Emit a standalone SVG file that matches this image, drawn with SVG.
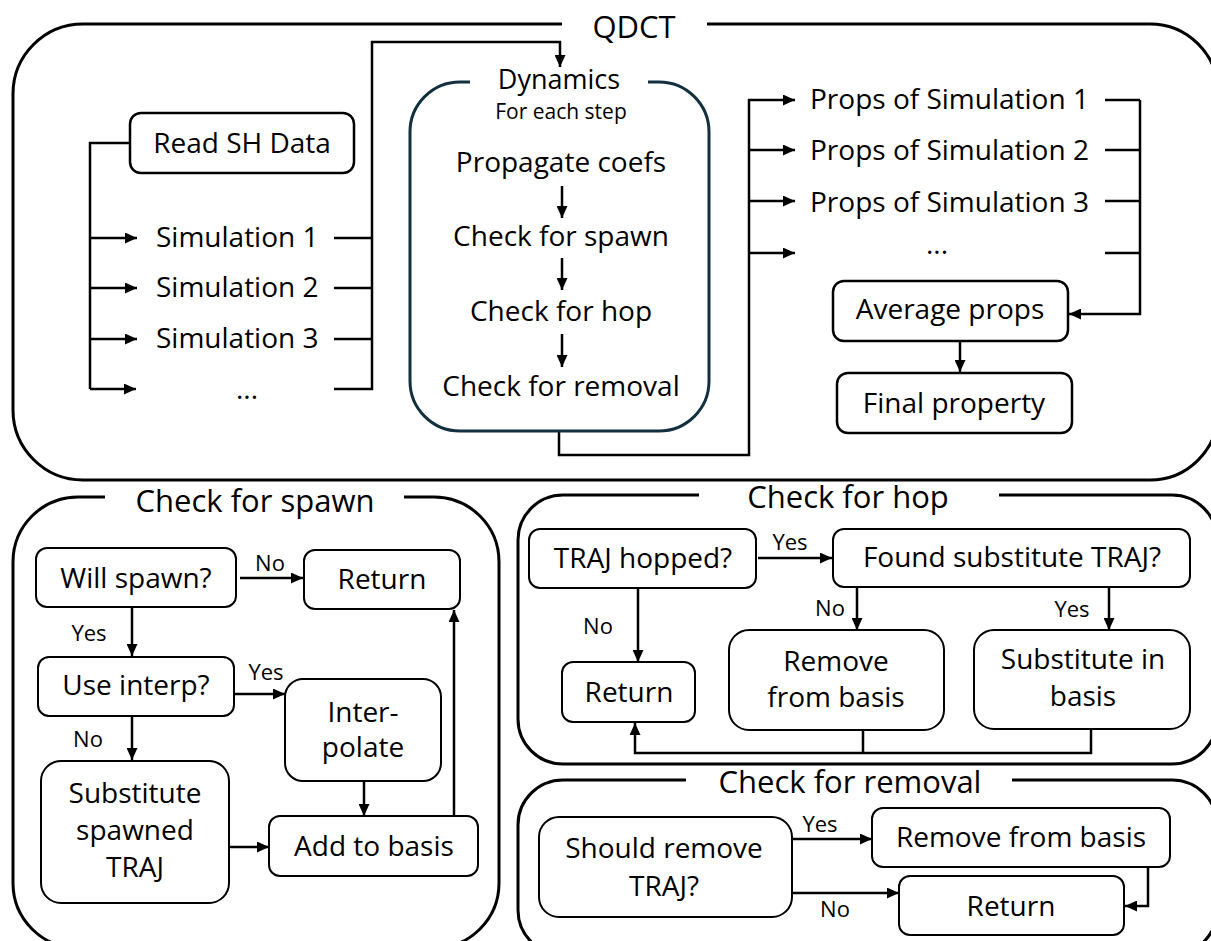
<svg xmlns="http://www.w3.org/2000/svg" width="1211" height="941" viewBox="0 0 1211 941">
<defs>
<style>
text{font-family:"Open Sans","Liberation Sans",sans-serif;fill:#000;}
.t{font-size:28px;text-anchor:middle;}
.ts{font-size:28px;text-anchor:start;}
.title{font-size:31px;text-anchor:middle;}
.lbl{font-size:22px;text-anchor:middle;}
.sub{font-size:21px;text-anchor:middle;}
.panel{fill:none;stroke:#000;stroke-width:3;}
.dyn{fill:none;stroke:#13303f;stroke-width:3;}
.box{fill:#fff;stroke:#000;stroke-width:2.5;}
.sbox{fill:#fff;stroke:#000;stroke-width:2;}
.c{fill:none;stroke:#000;stroke-width:2.5;}
.a{fill:none;stroke:#000;stroke-width:2.5;marker-end:url(#ah);}
</style>
<marker id="ah" markerUnits="userSpaceOnUse" markerWidth="13" markerHeight="11" refX="12" refY="5.5" orient="auto">
<path d="M0,0 L12,5.5 L0,11 z" fill="#000"/>
</marker>
</defs>

<g id="panels">
<path class="panel" d="M562 24 H83 A70 70 0 0 0 13 94 V410 A70 70 0 0 0 83 480 H1150 A68 68 0 0 0 1218 412 V92 A68 68 0 0 0 1150 24 H707"/>
<path class="panel" d="M105 497 H78 A65 65 0 0 0 13 562 V883 A65 65 0 0 0 78 948 H434 A65 65 0 0 0 499 883 V562 A65 65 0 0 0 434 497 H404"/>
<path class="panel" d="M699 495 H563 A45 45 0 0 0 518 540 V719 A45 45 0 0 0 563 764 H1172 A45 45 0 0 0 1217 719 V540 A45 45 0 0 0 1172 495 H999"/>
<path class="panel" d="M686 780 H563 A45 45 0 0 0 518 825 V910 A45 45 0 0 0 563 955 H1172 A45 45 0 0 0 1217 910 V825 A45 45 0 0 0 1172 780 H1012"/>
</g>

<g id="titles">
<text class="title" x="634" y="38">QDCT</text>
<text class="title" x="255" y="512">Check for spawn</text>
<text class="title" x="848" y="508">Check for hop</text>
<text class="title" x="850" y="793">Check for removal</text>
</g>

<g id="connectors">
<path class="c" d="M130 143 H90 V389"/>
<path class="a" d="M90 238 H137"/>
<path class="a" d="M90 288 H137"/>
<path class="a" d="M90 339 H137"/>
<path class="a" d="M90 389 H136"/>
<path class="c" d="M334 238 H372"/>
<path class="c" d="M334 288 H372"/>
<path class="c" d="M334 339 H372"/>
<path class="a" d="M334 389 H372 V42 H560 V67"/>
<path class="a" d="M562 186 V218"/>
<path class="a" d="M562 258 V290"/>
<path class="a" d="M562 334 V367"/>
<path class="a" d="M559 431 V455 H749 V100 H795"/>
<path class="a" d="M749 150 H795"/>
<path class="a" d="M749 201 H795"/>
<path class="a" d="M749 253 H795"/>
<path class="c" d="M1105 100 H1140"/>
<path class="c" d="M1105 150 H1140"/>
<path class="c" d="M1105 201 H1140"/>
<path class="c" d="M1105 253 H1140"/>
<path class="a" d="M1140 100 V314 H1069"/>
<path class="a" d="M960 341 V372"/>

<path class="a" d="M240 578 H303"/>
<path class="a" d="M132 607 V656"/>
<path class="a" d="M235 694 H285"/>
<path class="a" d="M132 716 V760"/>
<path class="a" d="M364 781 V816"/>
<path class="a" d="M229 847 H269"/>
<path class="a" d="M454 816 V610"/>

<path class="a" d="M758 558 H832"/>
<path class="a" d="M857 587 V630"/>
<path class="a" d="M1109 587 V630"/>
<path class="a" d="M638 588 V662"/>
<path class="c" d="M863 730 V753"/>
<path class="a" d="M1091 729 V753 H635 V723"/>

<path class="a" d="M792 839 H872"/>
<path class="a" d="M792 893 H899"/>
<path class="a" d="M1148 867 V906 H1125"/>
</g>

<g id="labels">
<text class="lbl" x="270" y="571">No</text>
<text class="lbl" x="89" y="641">Yes</text>
<text class="lbl" x="266" y="680">Yes</text>
<text class="lbl" x="88" y="747">No</text>
<text class="lbl" x="790" y="550">Yes</text>
<text class="lbl" x="830" y="616">No</text>
<text class="lbl" x="1072" y="617">Yes</text>
<text class="lbl" x="598" y="634">No</text>
<text class="lbl" x="820" y="832">Yes</text>
<text class="lbl" x="835" y="917">No</text>
</g>

<g id="read-sh-data"><rect class="box" x="130" y="113" width="224" height="60" rx="11"/><text class="t" x="242" y="153">Read SH Data</text></g>
<g id="simulation-1"><text class="ts" x="156" y="247">Simulation 1</text></g>
<g id="simulation-2"><text class="ts" x="156" y="297">Simulation 2</text></g>
<g id="simulation-3"><text class="ts" x="156" y="348">Simulation 3</text></g>
<g id="simulation-more"><text class="t" x="247" y="399">...</text></g>

<g id="dynamics">
<path class="dyn" d="M470 82 H460 A50 50 0 0 0 410 132 V381 A50 50 0 0 0 460 431 H659 A50 50 0 0 0 709 381 V132 A50 50 0 0 0 659 82 H648"/>
<text class="t" x="559" y="89" style="font-size:27px">Dynamics</text>
<text class="sub" x="561" y="119">For each step</text>
<text class="t" x="561" y="172">Propagate coefs</text>
<text class="t" x="561" y="246">Check for spawn</text>
<text class="t" x="561" y="321">Check for hop</text>
<text class="t" x="561" y="396">Check for removal</text>
</g>

<g id="props-1"><text class="ts" x="810" y="109">Props of Simulation 1</text></g>
<g id="props-2"><text class="ts" x="810" y="160">Props of Simulation 2</text></g>
<g id="props-3"><text class="ts" x="810" y="212">Props of Simulation 3</text></g>
<g id="props-more"><text class="t" x="937" y="254">...</text></g>
<g id="average-props"><rect class="box" x="833" y="281" width="235" height="60" rx="11"/><text class="t" x="950" y="319">Average props</text></g>
<g id="final-property"><rect class="box" x="837" y="373" width="235" height="60" rx="11"/><text class="t" x="954" y="413">Final property</text></g>

<g id="will-spawn"><rect class="sbox" x="36" y="548" width="200" height="59" rx="11"/><text class="t" x="136" y="588">Will spawn?</text></g>
<g id="spawn-return"><rect class="sbox" x="304" y="550" width="156" height="59" rx="11"/><text class="t" x="382" y="589">Return</text></g>
<g id="use-interp"><rect class="sbox" x="38" y="657" width="196" height="59" rx="11"/><text class="t" x="136" y="695">Use interp?</text></g>
<g id="interpolate"><rect class="sbox" x="285" y="679" width="156" height="102" rx="18"/><text class="t" x="363" y="722">Inter-</text><text class="t" x="363" y="757">polate</text></g>
<g id="substitute-spawned"><rect class="sbox" x="41" y="761" width="188" height="142" rx="20"/><text class="t" x="135" y="803">Substitute</text><text class="t" x="135" y="840">spawned</text><text class="t" x="135" y="877">TRAJ</text></g>
<g id="add-to-basis"><rect class="sbox" x="269" y="816" width="209" height="60" rx="11"/><text class="t" x="374" y="856">Add to basis</text></g>

<g id="traj-hopped"><rect class="sbox" x="529" y="529" width="227" height="59" rx="11"/><text class="t" x="643" y="568">TRAJ hopped?</text></g>
<g id="found-substitute"><rect class="sbox" x="833" y="529" width="357" height="58" rx="11"/><text class="t" x="1012" y="567">Found substitute TRAJ?</text></g>
<g id="hop-return"><rect class="sbox" x="562" y="662" width="133" height="60" rx="11"/><text class="t" x="629" y="702">Return</text></g>
<g id="hop-remove"><rect class="sbox" x="729" y="630" width="215" height="100" rx="20"/><text class="t" x="836" y="671">Remove</text><text class="t" x="836" y="707">from basis</text></g>
<g id="hop-substitute"><rect class="sbox" x="974" y="630" width="216" height="99" rx="20"/><text class="t" x="1083" y="669">Substitute in</text><text class="t" x="1083" y="706">basis</text></g>

<g id="should-remove"><rect class="sbox" x="539" y="817" width="253" height="100" rx="20"/><text class="t" x="664" y="858">Should remove</text><text class="t" x="664" y="896">TRAJ?</text></g>
<g id="removal-remove"><rect class="sbox" x="872" y="808" width="298" height="59" rx="11"/><text class="t" x="1021" y="847">Remove from basis</text></g>
<g id="removal-return"><rect class="sbox" x="899" y="876" width="225" height="59" rx="11"/><text class="t" x="1011" y="916">Return</text></g>
</svg>
